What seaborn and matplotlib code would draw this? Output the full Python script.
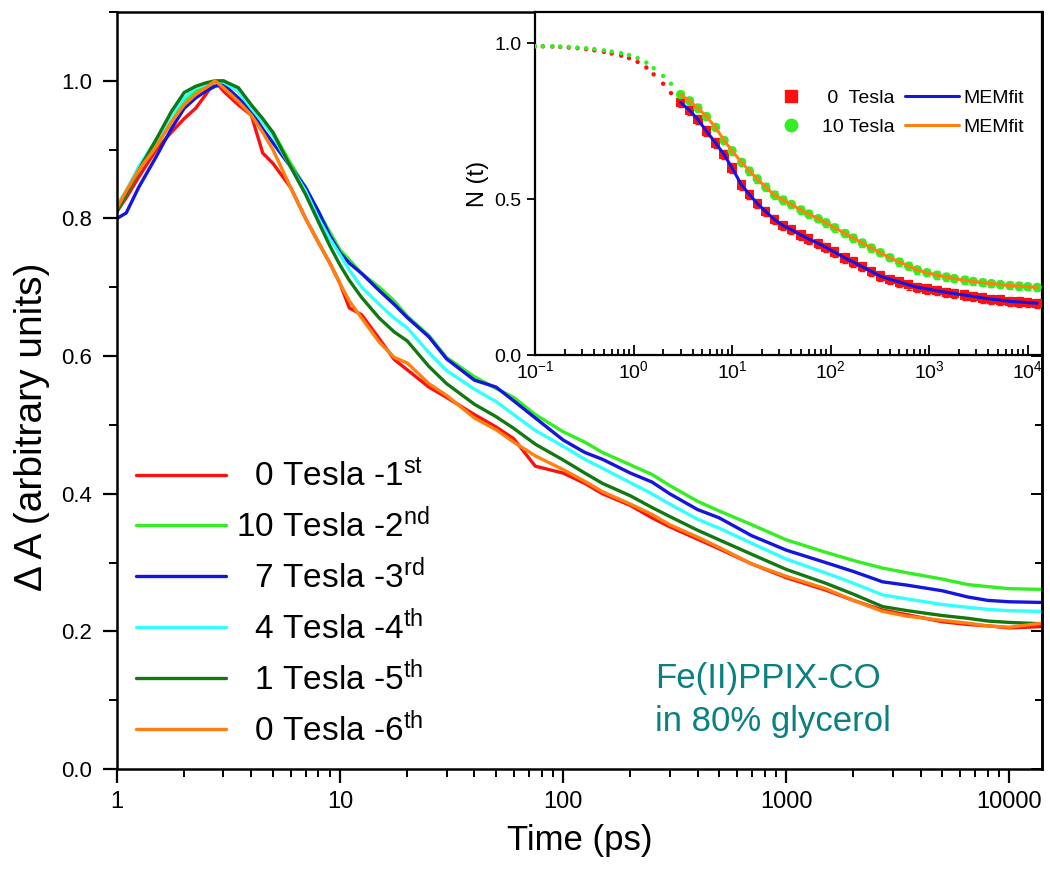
import matplotlib
matplotlib.use('Agg')
import numpy as np
import pandas as pd
import matplotlib.pyplot as plt
import seaborn as sns
from matplotlib.lines import Line2D
from matplotlib.ticker import MultipleLocator, FixedLocator, FuncFormatter, LogLocator, NullFormatter

sns.set_style('ticks')
plt.rcParams['font.family'] = ['Liberation Sans', 'DejaVu Sans']
plt.rcParams['mathtext.default'] = 'regular'
for k in ['text.color', 'axes.labelcolor', 'xtick.color', 'ytick.color', 'axes.edgecolor']:
    plt.rcParams[k] = 'black'

# ---- main panel: transient absorption, 6 runs ----
time_ps = [1, 1.1, 1.25, 1.5, 1.75, 2, 2.25, 2.5, 2.75, 3, 3.5, 4, 4.5, 5, 6, 7, 8, 9, 10, 11,
           12.5, 15, 17.5, 20, 25, 30, 40, 50, 60, 75, 100, 125, 150, 200, 250, 300, 400, 500,
           700, 1000, 1500, 2000, 2700, 3500, 5000, 6500, 8000, 10000, 14000]

dA_0T_1st = [0.81, 0.83, 0.86, 0.90, 0.925, 0.945, 0.96, 0.98, 1.0, 0.985, 0.965, 0.95, 0.895, 0.88,
             0.845, 0.80, 0.765, 0.735, 0.705, 0.67, 0.66, 0.625, 0.595, 0.58, 0.555, 0.54, 0.515,
             0.497, 0.48, 0.44, 0.43, 0.415, 0.40, 0.383, 0.365, 0.352, 0.334, 0.32, 0.298, 0.278,
             0.26, 0.245, 0.231, 0.224, 0.214, 0.21, 0.208, 0.205, 0.207]
dA_10T_2nd = [0.81, 0.835, 0.87, 0.905, 0.94, 0.97, 0.985, 0.99, 0.998, 1.0, 0.985, 0.96, 0.94, 0.925,
              0.88, 0.845, 0.81, 0.78, 0.754, 0.74, 0.72, 0.70, 0.68, 0.658, 0.63, 0.598, 0.57,
              0.553, 0.54, 0.515, 0.49, 0.475, 0.46, 0.442, 0.428, 0.412, 0.389, 0.375, 0.355,
              0.333, 0.315, 0.303, 0.292, 0.285, 0.276, 0.268, 0.265, 0.262, 0.261]
dA_7T_3rd = [0.80, 0.808, 0.845, 0.89, 0.93, 0.96, 0.975, 0.985, 0.992, 0.995, 0.975, 0.955, 0.93, 0.91,
             0.875, 0.845, 0.81, 0.775, 0.75, 0.735, 0.72, 0.695, 0.675, 0.656, 0.628, 0.596, 0.565,
             0.555, 0.535, 0.51, 0.478, 0.46, 0.45, 0.43, 0.417, 0.40, 0.377, 0.365, 0.339, 0.318,
             0.30, 0.287, 0.272, 0.267, 0.259, 0.25, 0.245, 0.243, 0.242]
dA_4T_4th = [0.82, 0.84, 0.875, 0.915, 0.95, 0.975, 0.99, 0.995, 1.0, 0.998, 0.985, 0.96, 0.94, 0.92,
             0.875, 0.84, 0.80, 0.77, 0.747, 0.725, 0.70, 0.675, 0.655, 0.641, 0.605, 0.579, 0.552,
             0.534, 0.515, 0.492, 0.469, 0.45, 0.437, 0.416, 0.40, 0.385, 0.363, 0.35, 0.328, 0.305,
             0.285, 0.27, 0.253, 0.247, 0.239, 0.235, 0.232, 0.230, 0.229]
dA_1T_5th = [0.81, 0.835, 0.87, 0.915, 0.955, 0.983, 0.992, 0.997, 1.0, 1.0, 0.99, 0.965, 0.945, 0.925,
             0.875, 0.835, 0.795, 0.76, 0.732, 0.71, 0.685, 0.655, 0.635, 0.622, 0.585, 0.56, 0.53,
             0.512, 0.495, 0.472, 0.449, 0.43, 0.415, 0.397, 0.38, 0.367, 0.347, 0.333, 0.312, 0.29,
             0.27, 0.254, 0.236, 0.23, 0.223, 0.219, 0.215, 0.213, 0.211]
dA_0T_6th = [0.815, 0.84, 0.87, 0.905, 0.94, 0.965, 0.98, 0.99, 1.0, 0.99, 0.97, 0.95, 0.925, 0.9,
             0.845, 0.80, 0.765, 0.735, 0.705, 0.68, 0.655, 0.62, 0.598, 0.59, 0.56, 0.543, 0.51,
             0.493, 0.475, 0.455, 0.435, 0.418, 0.403, 0.385, 0.37, 0.355, 0.337, 0.322, 0.298, 0.28,
             0.262, 0.245, 0.229, 0.222, 0.216, 0.212, 0.208, 0.206, 0.212]

run_labels = ['  0 Tesla -1$^{st}$', '10 Tesla -2$^{nd}$', '  7 Tesla -3$^{rd}$',
              '  4 Tesla -4$^{th}$', '  1 Tesla -5$^{th}$', '  0 Tesla -6$^{th}$']
run_colors = ['#ff1010', '#33ee22', '#1515e0', '#33ffff', '#127812', '#ff8010']

# ---- inset: normalized survival N(t) ----
t_early = [0.1, 0.12, 0.15, 0.18, 0.22, 0.27, 0.33, 0.4, 0.5, 0.6, 0.75, 0.9, 1.1, 1.35, 1.6, 2.0, 2.4]
n0_early = [0.99, 0.99, 0.989, 0.988, 0.986, 0.984, 0.981, 0.977, 0.972, 0.967, 0.96, 0.952, 0.94,
            0.922, 0.9, 0.87, 0.84]
n10_early = [0.99, 0.99, 0.99, 0.989, 0.988, 0.986, 0.984, 0.981, 0.977, 0.973, 0.968, 0.962, 0.952,
             0.938, 0.92, 0.895, 0.87]

t_inset = [3.0, 3.7, 4.5, 5.5, 6.8, 8.3, 10, 12.5, 15, 18, 22, 27, 33, 40, 50, 60, 75, 90, 110, 140,
           170, 210, 260, 320, 400, 500, 620, 760, 950, 1200, 1500, 1800, 2300, 2800, 3500, 4300,
           5300, 6600, 8200, 10000, 12500]
n_0T = [0.81, 0.785, 0.755, 0.718, 0.68, 0.643, 0.60, 0.545, 0.515, 0.486, 0.46, 0.434, 0.415, 0.402,
        0.385, 0.372, 0.358, 0.345, 0.33, 0.311, 0.298, 0.283, 0.268, 0.253, 0.243, 0.234, 0.225,
        0.217, 0.212, 0.206, 0.201, 0.197, 0.192, 0.188, 0.183, 0.179, 0.176, 0.172, 0.170, 0.168, 0.166]
n_10T = [0.835, 0.815, 0.792, 0.765, 0.73, 0.688, 0.655, 0.618, 0.59, 0.565, 0.538, 0.513, 0.497,
         0.483, 0.465, 0.452, 0.437, 0.424, 0.408, 0.39, 0.375, 0.359, 0.343, 0.328, 0.312, 0.298,
         0.285, 0.273, 0.264, 0.256, 0.25, 0.245, 0.24, 0.236, 0.232, 0.229, 0.226, 0.223, 0.221,
         0.219, 0.217]
err_0T = 0.015
err_10T = 0.012

fig = plt.figure(figsize=(10.5, 8.71), dpi=100)
ax = fig.add_axes([117/1050, 1-769/871, (1042-117)/1050, (769-12)/871])

rows = []
for lab, vals in zip(run_labels, [dA_0T_1st, dA_10T_2nd, dA_7T_3rd, dA_4T_4th, dA_1T_5th, dA_0T_6th]):
    for t, v in zip(time_ps, vals):
        rows.append({'t': t, 'dA': v, 'run': lab})
df = pd.DataFrame(rows)
sns.lineplot(data=df, x='t', y='dA', hue='run', hue_order=run_labels, palette=run_colors,
             lw=2.4, estimator=None, sort=False, legend=False, ax=ax)

ax.set_xscale('log')
ax.set_xlim(1, 14000)
ax.set_ylim(0, 1.1)
ax.xaxis.set_major_formatter(FuncFormatter(lambda v, p: f'{v:g}'))
ax.xaxis.set_minor_locator(LogLocator(base=10, subs=np.arange(2, 10)))
ax.xaxis.set_minor_formatter(NullFormatter())
ax.yaxis.set_major_locator(FixedLocator([0, 0.2, 0.4, 0.6, 0.8, 1.0]))
ax.yaxis.set_major_formatter(FuncFormatter(lambda v, p: f'{v:.1f}'))
ax.yaxis.set_minor_locator(MultipleLocator(0.1))
ax.tick_params(which='major', direction='out', length=10, width=1.6)
ax.tick_params(which='minor', direction='out', length=6, width=1.4)
ax.tick_params(axis='x', labelsize=17, pad=6)
ax.tick_params(axis='y', labelsize=16, pad=8)
for s in ax.spines.values():
    s.set_linewidth(1.8)
sec = ax.secondary_yaxis('right')
sec.yaxis.set_major_locator(FixedLocator([0, 0.2, 0.4, 0.6, 0.8, 1.0]))
sec.yaxis.set_minor_locator(MultipleLocator(0.1))
sec.tick_params(which='both', direction='in', labelright=False, width=1.4)
sec.tick_params(which='major', length=8)
sec.tick_params(which='minor', length=5)
sec.spines['right'].set_linewidth(1.8)

ax.set_xlabel('Time (ps)', fontsize=25, labelpad=8)
ax.set_ylabel('\u0394 A (arbitrary units)', fontsize=28)
ax.yaxis.set_label_coords(-0.072, 0.452)

handles = [Line2D([], [], color=c, lw=2.4) for c in run_colors]
ax.legend(handles, run_labels, loc='upper left', bbox_to_anchor=(0.02, 0.408), frameon=False,
          fontsize=24, handlelength=2.7, handletextpad=0.3, labelspacing=0.45,
          borderaxespad=0, borderpad=0)

ax.text(0.582, 0.142, 'Fe(II)PPIX-CO\nin 80% glycerol', transform=ax.transAxes,
        fontsize=25, color='#0a8080', va='top', ha='left', linespacing=1.4)

# inset
axi = fig.add_axes([535/1050, 1-355/871, (1042-535)/1050, (355-12)/871])
axi.set_facecolor('white')
axi.errorbar(t_inset, n_0T, yerr=err_0T, fmt='none', ecolor='#ff1010', elinewidth=1.2, capsize=2.5, zorder=2)
axi.errorbar(t_inset, n_10T, yerr=err_10T, fmt='none', ecolor='#33ee22', elinewidth=1.2, capsize=2.5, zorder=2)
sns.scatterplot(x=t_early, y=n0_early, color='#ff1010', s=10, edgecolor='none', ax=axi, zorder=3)
sns.scatterplot(x=t_early, y=n10_early, color='#33ee22', s=10, edgecolor='none', ax=axi, zorder=3)
sns.scatterplot(x=t_inset, y=n_0T, marker='s', color='#ff1010', s=45, edgecolor='none', ax=axi, zorder=3)
sns.scatterplot(x=t_inset, y=n_10T, marker='o', color='#33ee22', s=45, edgecolor='none', ax=axi, zorder=3)
sns.lineplot(x=t_inset, y=n_0T, color='#1515e0', lw=2.2, ax=axi, zorder=4)
sns.lineplot(x=t_inset, y=n_10T, color='#ff8010', lw=2.2, ax=axi, zorder=4)

axi.set_xscale('log')
axi.set_xlim(0.1, 14000)
axi.set_ylim(0, 1.1)
axi.xaxis.set_major_locator(LogLocator(base=10, numticks=10))
axi.xaxis.set_minor_locator(LogLocator(base=10, subs=np.arange(2, 10), numticks=10))
axi.xaxis.set_minor_formatter(NullFormatter())
axi.yaxis.set_major_locator(FixedLocator([0, 0.5, 1.0]))
axi.yaxis.set_major_formatter(FuncFormatter(lambda v, p: f'{v:.1f}'))
axi.tick_params(axis='x', which='both', direction='in', labelsize=14, width=1.3)
axi.tick_params(axis='x', which='major', length=7)
axi.tick_params(axis='x', which='minor', length=4)
axi.tick_params(axis='y', direction='out', length=6, width=1.3, labelsize=14)
for s in axi.spines.values():
    s.set_linewidth(1.6)
axi.set_xlabel('')
axi.set_ylabel('N (t)', fontsize=17, labelpad=4)

ihandles = [Line2D([], [], marker='s', color='#ff1010', ls='none', ms=8),
            Line2D([], [], marker='o', color='#33ee22', ls='none', ms=9),
            Line2D([], [], color='#1515e0', lw=2.2),
            Line2D([], [], color='#ff8010', lw=2.2)]
axi.legend(ihandles, [' 0  Tesla', '10 Tesla', 'MEMfit', 'MEMfit'], ncol=2, loc='upper left',
           bbox_to_anchor=(0.452, 0.775), frameon=False, fontsize=14, handlelength=2.8,
           handletextpad=0.2, columnspacing=0.5, labelspacing=0.6, borderaxespad=0, borderpad=0)

fig.savefig('out.png', dpi=100)
